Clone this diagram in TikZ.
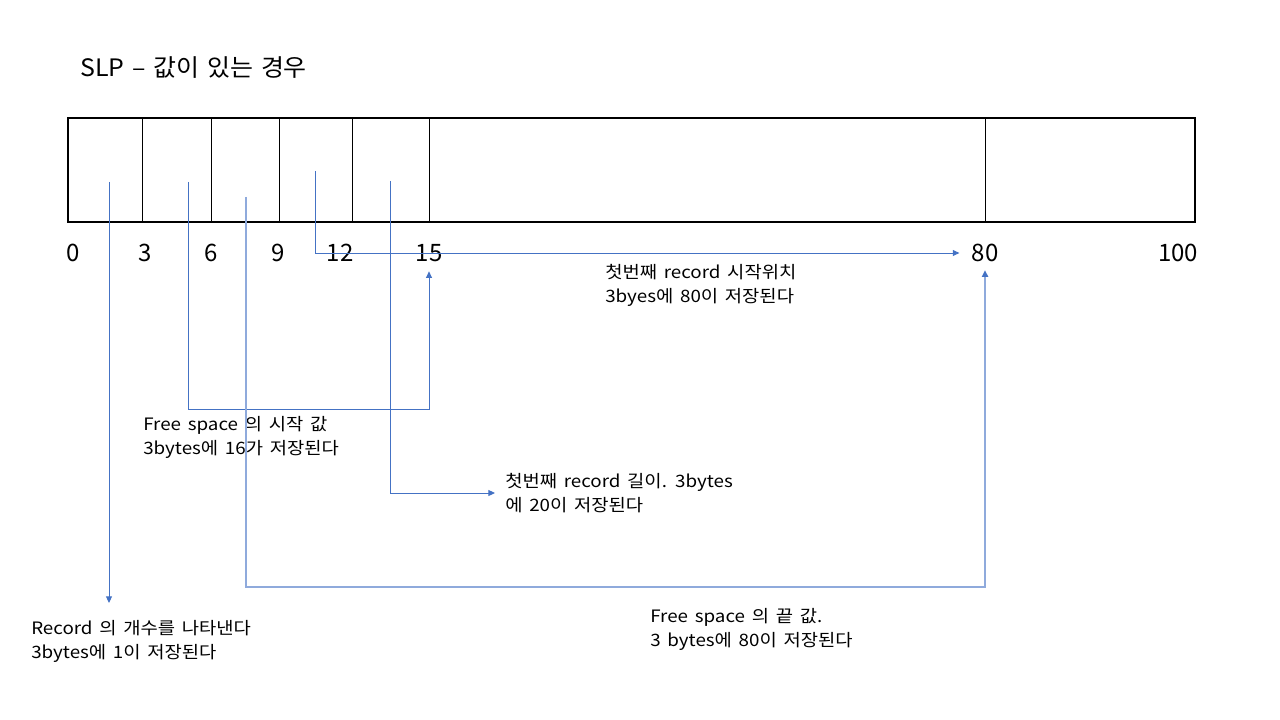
\documentclass[tikz,border=0pt]{standalone}
\usepackage{fontspec}
\setmainfont{Noto Sans CJK KR}
\newfontfamily\lblfont{Noto Sans CJK KR}[FakeStretch=1.1,WordSpace=1.6]
\newfontfamily\ttlfont{Noto Sans CJK KR}[FakeStretch=1.04,WordSpace=1.4]
\usetikzlibrary{arrows.meta}
\definecolor{lineblue}{HTML}{4472C4}
\definecolor{lightblue}{HTML}{8FAADC}
\tikzset{
  conn/.style={draw=lineblue, line width=0.75pt, -{Triangle[length=5pt,width=4.5pt]}},
  connlight/.style={draw=lightblue, line width=1.3pt, -{Triangle[length=5pt,width=4.5pt,color=lineblue]}},
  num/.style={font=\fontsize{18}{22}\selectfont, inner sep=0pt, anchor=center},
  lbl/.style={font=\lblfont\fontsize{12.8}{18}\selectfont, inner sep=0pt, anchor=west, align=left},
  divider/.style={draw=black, line width=0.75pt}
}
\begin{document}
\begin{tikzpicture}[x=0.75pt,y=-0.75pt]
\useasboundingbox (0,0) rectangle (1280,720);
% title
\node[font=\ttlfont\fontsize{18}{22}\selectfont, inner sep=0pt, anchor=west] (title) at (80,68) {SLP – 값이 있는 경우};
% page box
\draw[line width=1.9pt] (68,118) rectangle (1195,222);
\foreach \x in {142,211,279,352,429,985} \draw[divider] (\x,118) -- (\x,222);
% numbers
\node[num] (n0) at (73,253) {0};
\node[num] (n3) at (145,253) {3};
\node[num] (n6) at (211,253) {6};
\node[num] (n9) at (278,253) {9};
\node[num] (n12) at (340,253) {12};
\node[num] (n15) at (429,253) {15};
\node[num] (n80) at (985,253) {80};
\node[num] (n100) at (1178,253) {100};
% labels
\node[lbl] (l1) at (31,641) {Record 의 개수를 나타낸다\\3bytes에 1이 저장된다};
\node[lbl] (l2) at (143,437) {Free space 의 시작 값\\3bytes에 16가 저장된다};
\node[lbl] (l3) at (650,629) {Free space 의 끝 값.\\3 bytes에 80이 저장된다};
\node[lbl] (l4) at (605,285) {첫번째 record 시작위치\\3byes에 80이 저장된다};
\node[lbl] (l5) at (505,493) {첫번째 record 길이. 3bytes\\에 20이 저장된다};
% start points
\coordinate (s1) at (109,182);
\coordinate (s2) at (188,182);
\coordinate (s3) at (246,197);
\coordinate (s4) at (315,171);
\coordinate (s5) at (390,181);
\coordinate (t2) at (188,409);
\coordinate (t3) at (246,587);
\coordinate (e1) at (109,603);
% connectors
\draw[conn] (s1) -- (e1);
\draw[conn] (s2) -- (t2) -| ([yshift=-7pt]n15.south);
\draw[connlight] (s3) -- (t3) -| ([yshift=-6pt]n80.south);
\draw[conn] (s4) |- ([xshift=-9pt]n80.west);
\draw[conn] (s5) |- ([xshift=-7.5pt]l5.west);
\end{tikzpicture}
\end{document}
